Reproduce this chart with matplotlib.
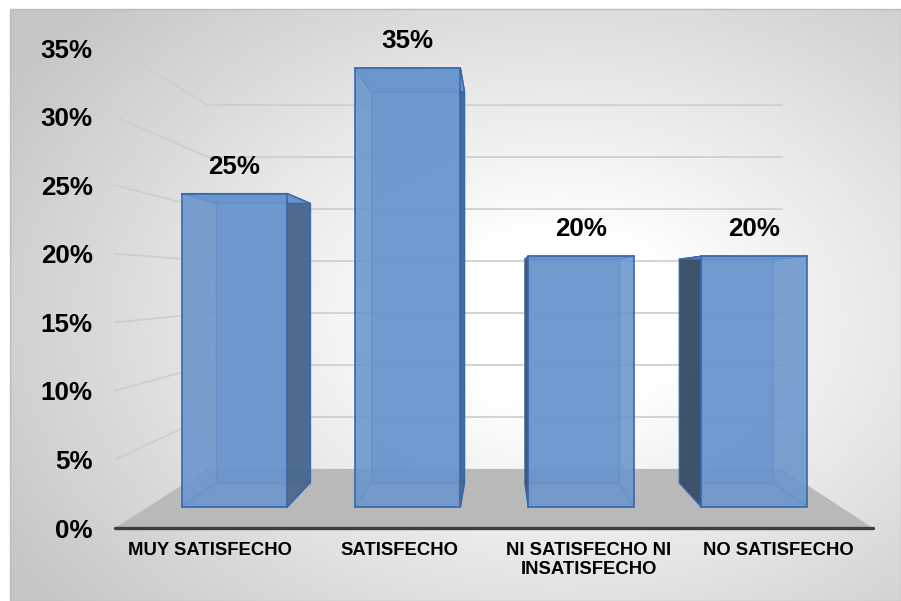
import numpy as np
import matplotlib
matplotlib.use("Agg")
import matplotlib.pyplot as plt
from matplotlib.patches import Polygon, Rectangle

# ---------------- data ----------------
categories = ["MUY SATISFECHO", "SATISFECHO", "NI SATISFECHO NI\nINSATISFECHO", "NO SATISFECHO"]
values = [25, 35, 20, 20]
value_labels = ["25%", "35%", "20%", "20%"]
yticks = [0, 5, 10, 15, 20, 25, 30, 35]
ytick_labels = ["0%", "5%", "10%", "15%", "20%", "25%", "30%", "35%"]

plt.rcParams['font.family'] = ['Liberation Sans', 'DejaVu Sans']
plt.rcParams['font.weight'] = 'bold'

W, H = 901, 601
fig = plt.figure(figsize=(W / 100, H / 100), dpi=100)

# ---------------- background (chart area gradient) ----------------
bg = fig.add_axes([0, 0, 1, 1])
bg.set_xlim(0, W)
bg.set_ylim(H, 0)
bg.axis('off')
xx, yy = np.meshgrid(np.arange(W) + 0.5, np.arange(H) + 0.5)
cx, cy = 560, 320
d = np.sqrt(((xx - cx) / 560.0) ** 2 + ((yy - cy) / 400.0) ** 2)
g = np.clip((d - 0.22) / 0.95, 0, 1)
val = (255 - 58 * g) / 255.0
val[(xx < 10) | (yy < 9)] = 1.0
img = np.dstack([val, val, val])
bg.imshow(img, extent=(0, W, H, 0), interpolation='bilinear', zorder=0)
bg.add_patch(Rectangle((10, 9), W - 10, H - 9, fill=False, edgecolor='#bdbdbd', lw=1.0, zorder=1))

# ---------------- main axes (front plane coords) ----------------
ax = fig.add_axes([115 / W, 73 / H, 758 / W, 480 / H])
ax.patch.set_alpha(0)
ax.set_xlim(0, len(categories))
ax.set_ylim(0, 35)
for s in ax.spines.values():
    s.set_visible(False)

VX, VY = 2.02, 17.8      # vanishing point (data coords)
SF, SB, SW = 0.914, 0.815, 0.758   # depth scales: bar front, bar back, back wall
HW = 0.304               # bar half width (category units)


def proj(x, y, s):
    return (VX + (x - VX) * s, VY + (y - VY) * s)


grid_c = '#cdcdcd'
for v in yticks[1:]:
    a = proj(0, v, 1.0)
    b = proj(0, v, SW)
    c = proj(len(categories), v, SW)
    ax.plot([a[0], b[0], c[0]], [a[1], b[1], c[1]], color=grid_c, lw=1.2, zorder=1,
            solid_joinstyle='miter', clip_on=False)

# floor
n = len(categories)
floor = [proj(0, 0, 1), proj(n, 0, 1), proj(n, 0, SW), proj(0, 0, SW)]
ax.add_patch(Polygon(floor, closed=True, facecolor='#b9b9b9', edgecolor='none', zorder=2))
ax.plot([0, n], [0, 0], color='#3d3d3d', lw=2.4, solid_capstyle='round', zorder=3, clip_on=False)

# bars
front_c = (0.41, 0.585, 0.80, 0.88)
top_c = (0.43, 0.60, 0.81, 0.88)
back_c = (0.38, 0.55, 0.77, 0.55)
side_r = (0.28, 0.40, 0.55, 0.92)
side_l = (0.22, 0.30, 0.40, 0.95)
edge_c = '#3868ab'
inner_c = '#4d7cbc'

for i, v in enumerate(values):
    x0, x1 = i + 0.5 - HW, i + 0.5 + HW
    back = [proj(x0, 0, SB), proj(x1, 0, SB), proj(x1, v, SB), proj(x0, v, SB)]
    ax.add_patch(Polygon(back, closed=True, facecolor=back_c, edgecolor=inner_c, lw=1.0, zorder=4))
    for xe in (x0, x1):
        for ye in (0, v):
            p, q = proj(xe, ye, SF), proj(xe, ye, SB)
            ax.plot([p[0], q[0]], [p[1], q[1]], color=inner_c, lw=1.0, zorder=4)
    if x1 < VX:
        side = [proj(x1, 0, SF), proj(x1, v, SF), proj(x1, v, SB), proj(x1, 0, SB)]
        ax.add_patch(Polygon(side, closed=True, facecolor=side_r, edgecolor=edge_c, lw=1.0, zorder=5))
    if x0 > VX:
        side = [proj(x0, 0, SF), proj(x0, v, SF), proj(x0, v, SB), proj(x0, 0, SB)]
        ax.add_patch(Polygon(side, closed=True, facecolor=side_l, edgecolor=edge_c, lw=1.0, zorder=5))
    top = [proj(x0, v, SF), proj(x1, v, SF), proj(x1, v, SB), proj(x0, v, SB)]
    ax.add_patch(Polygon(top, closed=True, facecolor=top_c, edgecolor=edge_c, lw=1.0, zorder=6))
    front = [proj(x0, 0, SF), proj(x1, 0, SF), proj(x1, v, SF), proj(x0, v, SF)]
    ax.add_patch(Polygon(front, closed=True, facecolor=front_c, edgecolor=edge_c, lw=1.2, zorder=7))
    tx, ty = proj(i + 0.5, v, SF)
    ax.annotate(value_labels[i], (tx, ty), xytext=(0, 19.5), textcoords='offset points',
                ha='center', va='center', fontsize=18.7, fontweight='bold', color='black',
                zorder=10, annotation_clip=False)

# ticks
ax.set_yticks(yticks)
ax.set_yticklabels(ytick_labels, fontsize=18.7, fontweight='bold')
ax.set_xticks([i + 0.5 for i in range(n)])
ax.set_xticklabels(categories, fontsize=13.3, fontweight='bold', linespacing=1.15)
ax.tick_params(axis='y', length=0, pad=16)
ax.tick_params(axis='x', length=0, pad=10)

fig.savefig('out.png', dpi=100)
